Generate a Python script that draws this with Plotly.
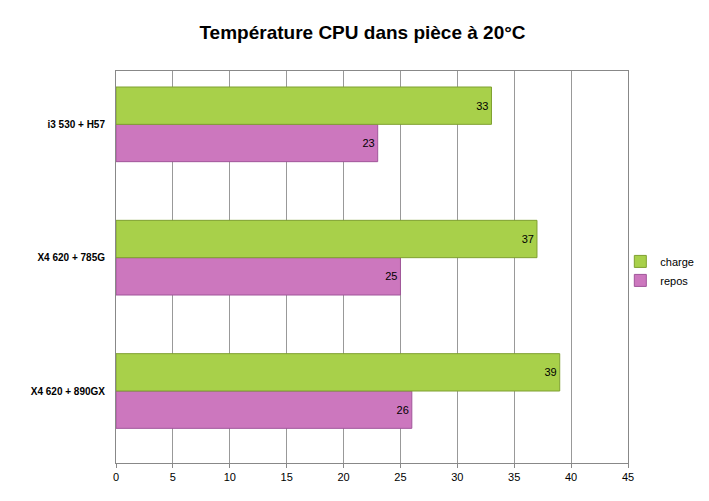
import plotly.graph_objects as go

configs = ["i3 530 + H57", "X4 620 + 785G", "X4 620 + 890GX"]
charge = [33, 37, 39]
repos = [23, 25, 26]
x_ticks = [0, 5, 10, 15, 20, 25, 30, 35, 40, 45]

fig = go.Figure()
fig.add_trace(go.Bar(y=configs, x=repos, name="repos", orientation="h",
                     marker=dict(color="#CC77BE", line=dict(color="#A0559A", width=1)),
                     text=repos, textposition="inside", insidetextanchor="end",
                     textfont=dict(color="black", size=11)))
fig.add_trace(go.Bar(y=configs, x=charge, name="charge", orientation="h",
                     marker=dict(color="#A8D04A", line=dict(color="#7FA030", width=1)),
                     text=charge, textposition="inside", insidetextanchor="end",
                     textfont=dict(color="black", size=11)))

fig.update_layout(
    width=709, height=501,
    title=dict(text="<b>Température CPU dans pièce à 20°C</b>", x=0.5, y=0.965,
               xanchor="center", font=dict(family="Liberation Sans", size=19, color="black")),
    font=dict(family="Liberation Sans", size=11, color="black"),
    paper_bgcolor="white", plot_bgcolor="white",
    margin=dict(l=108, r=89, t=63, b=46, autoexpand=False),
    barmode="group", bargap=0.44, bargroupgap=0,
    legend=dict(x=0.985, y=0.49, xanchor="left", yanchor="middle",
                traceorder="reversed", font=dict(size=11),
                itemwidth=30, tracegroupgap=0, bgcolor="rgba(0,0,0,0)"),
    xaxis=dict(range=[0, 45], tickvals=x_ticks, showgrid=True, gridcolor="#999999",
               showline=True, linecolor="#888888", mirror=True, ticks="outside",
               tickcolor="#888888", ticklen=4, zeroline=False, automargin=False),
    yaxis=dict(categoryorder="array", categoryarray=configs[::-1], range=[-0.54, 2.40],
               showline=True, linecolor="#888888", mirror=True, automargin=False,
               tickfont=dict(size=10, family="Liberation Sans"), ticklabelstandoff=8),
)
fig.update_yaxes(tickprefix="<b>", ticksuffix="</b>")
fig.write_html("out.html")
